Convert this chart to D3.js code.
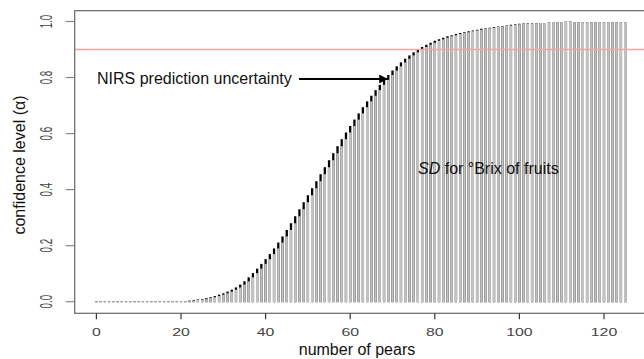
<!DOCTYPE html>
<html>
<head>
<meta charset="utf-8">
<script src="https://cdn.jsdelivr.net/npm/d3@7"></script>
<style>
  html, body { margin: 0; padding: 0; background: #fff; }
  svg { display: block; font-family: "Liberation Sans", Arial, sans-serif; }
</style>
</head>
<body>
<div id="chart"></div>
<script>
// confidence level for NIRS prediction uncertainty (black), index = number of pears
var nirsLevel = [
  0, 0, 0, 0, 0, 0, 0, 0, 0, 0,
  0, 0, 0, 0, 0, 0, 0, 0, 0, 0,
  0, 0.002, 0.004, 0.006, 0.008, 0.010, 0.013, 0.016, 0.020, 0.025,
  0.030, 0.036, 0.043, 0.051, 0.061, 0.073, 0.087, 0.102, 0.118, 0.135,
  0.152, 0.170, 0.190, 0.211, 0.233, 0.256, 0.280, 0.305, 0.330, 0.355,
  0.380, 0.405, 0.430, 0.455, 0.480, 0.505, 0.530, 0.555, 0.580, 0.604,
  0.627, 0.650, 0.672, 0.694, 0.715, 0.735, 0.755, 0.774, 0.792, 0.809,
  0.825, 0.840, 0.854, 0.867, 0.879, 0.890, 0.900, 0.909, 0.917, 0.924,
  0.931, 0.937, 0.942, 0.947, 0.951, 0.955, 0.959, 0.962, 0.965, 0.968,
  0.971, 0.974, 0.976, 0.978, 0.980, 0.982, 0.984, 0.986, 0.988, 0.990,
  0.992, 0.993, 0.994, 0.994, 0.995, 0.995, 0.995, 0.997, 0.998, 0.997,
  0.998, 1.000, 1.000, 0.998, 0.997, 0.997, 0.997, 0.997, 0.997, 0.997,
  0.997, 0.997, 0.997, 0.997, 0.997, 0.997
];
// confidence level for SD of Brix of fruits (grey bars)
var sdLevel = [
  0, 0, 0, 0, 0, 0, 0, 0, 0, 0,
  0, 0, 0, 0, 0, 0, 0, 0, 0, 0,
  0, 0, 0.002, 0.004, 0.006, 0.008, 0.010, 0.013, 0.016, 0.020,
  0.025, 0.030, 0.036, 0.043, 0.051, 0.061, 0.073, 0.087, 0.102, 0.118,
  0.135, 0.152, 0.170, 0.190, 0.211, 0.233, 0.256, 0.280, 0.305, 0.330,
  0.355, 0.380, 0.405, 0.430, 0.455, 0.480, 0.505, 0.530, 0.555, 0.580,
  0.604, 0.627, 0.650, 0.672, 0.694, 0.715, 0.735, 0.755, 0.774, 0.792,
  0.809, 0.825, 0.840, 0.854, 0.867, 0.879, 0.890, 0.900, 0.909, 0.917,
  0.924, 0.931, 0.937, 0.942, 0.947, 0.951, 0.955, 0.959, 0.962, 0.965,
  0.968, 0.971, 0.974, 0.976, 0.978, 0.980, 0.982, 0.984, 0.986, 0.988,
  0.990, 0.991, 0.993, 0.993, 0.994, 0.995, 0.995, 0.997, 0.998, 0.997,
  0.998, 1.000, 1.000, 0.998, 0.997, 0.997, 0.997, 0.997, 0.997, 0.997,
  0.997, 0.997, 0.997, 0.997, 0.997, 0.997
];
var xTicks = [0, 20, 40, 60, 80, 100, 120];
var yTicks = [0, 0.2, 0.4, 0.6, 0.8, 1.0];
var yTickLabels = ["0.0", "0.2", "0.4", "0.6", "0.8", "1.0"];
var threshold = 0.9;

var W = 644, H = 359;
var box = {left: 74.7, top: 10.7, bottom: 313.3, right: 660};

var x = d3.scaleLinear().domain([0, 120]).range([96.4, 604]);
var y = d3.scaleLinear().domain([0, 1]).range([301.7, 21.5]);

var svg = d3.select("#chart").append("svg").attr("width", W).attr("height", H);

var idx = d3.range(nirsLevel.length);

// black (drawn first, grey covers all but the top)
svg.append("g").selectAll("line").data(idx).join("line")
  .attr("x1", function(i){return x(i);}).attr("x2", function(i){return x(i);})
  .attr("y1", y(0) + 0.5)
  .attr("y2", function(i){return Math.min(y(nirsLevel[i]), y(0) - 0.5);})
  .attr("stroke", "#000").attr("stroke-width", 2.3);

svg.append("g").selectAll("line").data(idx).join("line")
  .attr("x1", function(i){return x(i);}).attr("x2", function(i){return x(i);})
  .attr("y1", y(0) + 0.5)
  .attr("y2", function(i){return Math.min(y(sdLevel[i]), y(0) - 0.5);})
  .attr("stroke", "#c2c2c2").attr("stroke-width", 2.3);

// threshold line
svg.append("line")
  .attr("x1", box.left).attr("x2", box.right)
  .attr("y1", y(threshold)).attr("y2", y(threshold))
  .attr("stroke", "#f5a3a3").attr("stroke-width", 1.6);

// box
svg.append("rect")
  .attr("x", box.left).attr("y", box.top)
  .attr("width", box.right - box.left).attr("height", box.bottom - box.top)
  .attr("fill", "none").attr("stroke", "#666").attr("stroke-width", 1.2);

// x axis
var xAxis = svg.append("g");
xAxis.selectAll("line").data(xTicks).join("line")
  .attr("x1", function(d){return x(d);}).attr("x2", function(d){return x(d);})
  .attr("y1", box.bottom).attr("y2", box.bottom + 6)
  .attr("stroke", "#333").attr("stroke-width", 1.2);
xAxis.selectAll("text").data(xTicks).join("text")
  .attr("transform", function(d){return "translate(" + x(d) + ",335.5) scale(1.38,1)";})
  .attr("text-anchor", "middle").attr("font-size", "11.5px").attr("fill", "#444")
  .text(function(d){return d;});

// y axis
var yAxis = svg.append("g");
yAxis.selectAll("line").data(yTicks).join("line")
  .attr("x1", box.left - 9).attr("x2", box.left)
  .attr("y1", function(d){return y(d);}).attr("y2", function(d){return y(d);})
  .attr("stroke", "#888").attr("stroke-width", 1.2);
yAxis.selectAll("text").data(yTicks).join("text")
  .attr("transform", function(d){return "translate(52," + y(d) + ") scale(1.75,1) rotate(-90)";})
  .attr("text-anchor", "middle").attr("font-size", "9.8px").attr("fill", "#444")
  .text(function(d, i){return yTickLabels[i];});

// axis titles
svg.append("text")
  .attr("x", 357).attr("y", 355)
  .attr("text-anchor", "middle").attr("font-size", "16px").attr("fill", "#111")
  .text("number of pears");
svg.append("text")
  .attr("transform", "translate(25,165) rotate(-90)")
  .attr("text-anchor", "middle").attr("font-size", "16px").attr("fill", "#111")
  .text("confidence level (α)");

// annotations
svg.append("text")
  .attr("x", 97).attr("y", 84)
  .attr("font-size", "16px").attr("fill", "#111")
  .text("NIRS prediction uncertainty");

svg.append("defs").append("marker")
  .attr("id", "head").attr("viewBox", "0 0 10 10")
  .attr("refX", 10).attr("refY", 5)
  .attr("markerWidth", 4.2).attr("markerHeight", 4).attr("markerUnits", "strokeWidth")
  .attr("orient", "auto")
  .append("path").attr("d", "M0,0 L10,5 L0,10 Z").attr("fill", "#000");
svg.append("line")
  .attr("x1", 299).attr("x2", 388).attr("y1", 79).attr("y2", 79)
  .attr("stroke", "#000").attr("stroke-width", 2.2)
  .attr("marker-end", "url(#head)");

var sdText = svg.append("text")
  .attr("x", 418).attr("y", 174)
  .attr("font-size", "16px").attr("fill", "#111");
sdText.append("tspan").attr("font-style", "italic").text("SD");
sdText.append("tspan").text(" for °Brix of fruits");
</script>
</body>
</html>
